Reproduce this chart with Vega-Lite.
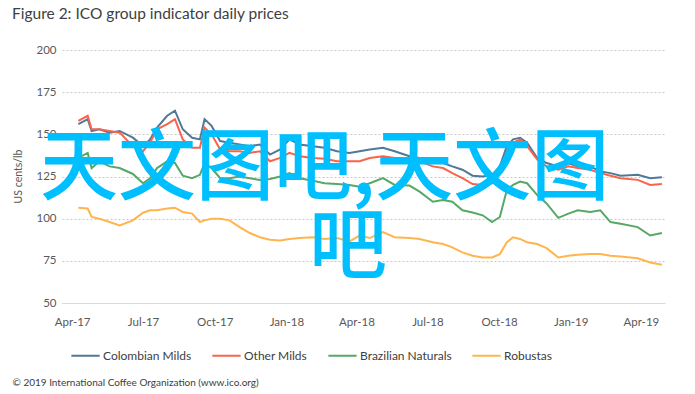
{
  "$schema": "https://vega.github.io/schema/vega-lite/v6.json",
  "autosize": "none",
  "width": 603,
  "height": 253,
  "padding": {"left": 62, "top": 50, "right": 30, "bottom": 91},
  "background": "white",
  "title": {"text": "Figure 2: ICO group indicator daily prices", "anchor": "start", "frame": "group", "dx": -50, "offset": 10, "baseline": "alphabetic", "fontSize": 15.5, "font": "Lato", "fontWeight": "normal", "color": "#404040"},
  "config": {
    "font": "Lato",
    "view": {"stroke": null}
  },
  "datasets": {
    "prices": [
      {"date":"2017-04-09","Colombian Milds":156,"Other Milds":158,"Brazilian Naturals":136,"Robustas":106.5},
      {"date":"2017-04-21","Colombian Milds":159,"Other Milds":161,"Brazilian Naturals":139,"Robustas":106},
      {"date":"2017-04-26","Colombian Milds":152,"Other Milds":153,"Brazilian Naturals":130,"Robustas":101},
      {"date":"2017-05-06","Colombian Milds":153,"Other Milds":153,"Brazilian Naturals":134,"Robustas":100},
      {"date":"2017-05-19","Colombian Milds":151,"Other Milds":152,"Brazilian Naturals":131,"Robustas":98},
      {"date":"2017-06-01","Colombian Milds":152,"Other Milds":151,"Brazilian Naturals":130,"Robustas":96},
      {"date":"2017-06-18","Colombian Milds":148,"Other Milds":143,"Brazilian Naturals":126.5,"Robustas":99},
      {"date":"2017-07-01","Colombian Milds":143,"Other Milds":140,"Brazilian Naturals":121,"Robustas":103.5},
      {"date":"2017-07-10","Colombian Milds":147,"Other Milds":145,"Brazilian Naturals":124,"Robustas":105},
      {"date":"2017-07-19","Colombian Milds":154,"Other Milds":153,"Brazilian Naturals":130,"Robustas":105},
      {"date":"2017-08-01","Colombian Milds":161,"Other Milds":156,"Brazilian Naturals":134,"Robustas":106},
      {"date":"2017-08-11","Colombian Milds":164,"Other Milds":159,"Brazilian Naturals":133,"Robustas":106.5},
      {"date":"2017-08-21","Colombian Milds":153,"Other Milds":147,"Brazilian Naturals":125.5,"Robustas":104},
      {"date":"2017-09-02","Colombian Milds":148,"Other Milds":142,"Brazilian Naturals":124,"Robustas":103},
      {"date":"2017-09-12","Colombian Milds":147,"Other Milds":142,"Brazilian Naturals":126,"Robustas":98},
      {"date":"2017-09-18","Colombian Milds":159,"Other Milds":154,"Brazilian Naturals":133,"Robustas":99},
      {"date":"2017-09-27","Colombian Milds":155,"Other Milds":150,"Brazilian Naturals":130,"Robustas":100},
      {"date":"2017-10-08","Colombian Milds":146,"Other Milds":141,"Brazilian Naturals":124,"Robustas":100},
      {"date":"2017-10-20","Colombian Milds":145,"Other Milds":140,"Brazilian Naturals":124,"Robustas":99},
      {"date":"2017-11-02","Colombian Milds":144,"Other Milds":140,"Brazilian Naturals":125,"Robustas":95},
      {"date":"2017-11-15","Colombian Milds":143,"Other Milds":139,"Brazilian Naturals":124,"Robustas":91.5},
      {"date":"2017-11-28","Colombian Milds":144,"Other Milds":140,"Brazilian Naturals":123,"Robustas":89},
      {"date":"2017-12-11","Colombian Milds":138,"Other Milds":134,"Brazilian Naturals":123.5,"Robustas":87.5},
      {"date":"2017-12-24","Colombian Milds":141,"Other Milds":136,"Brazilian Naturals":125,"Robustas":87},
      {"date":"2018-01-05","Colombian Milds":147,"Other Milds":139,"Brazilian Naturals":127,"Robustas":88},
      {"date":"2018-01-18","Colombian Milds":144,"Other Milds":137,"Brazilian Naturals":124,"Robustas":88.5},
      {"date":"2018-02-04","Colombian Milds":143,"Other Milds":136,"Brazilian Naturals":122.5,"Robustas":89},
      {"date":"2018-02-19","Colombian Milds":142,"Other Milds":135.5,"Brazilian Naturals":121,"Robustas":88},
      {"date":"2018-03-07","Colombian Milds":140,"Other Milds":134,"Brazilian Naturals":120.5,"Robustas":88.5},
      {"date":"2018-03-23","Colombian Milds":139,"Other Milds":134,"Brazilian Naturals":120,"Robustas":86.5},
      {"date":"2018-04-05","Colombian Milds":140,"Other Milds":134,"Brazilian Naturals":119,"Robustas":90},
      {"date":"2018-04-18","Colombian Milds":141,"Other Milds":136,"Brazilian Naturals":121,"Robustas":88.5},
      {"date":"2018-05-05","Colombian Milds":142,"Other Milds":137,"Brazilian Naturals":124,"Robustas":92},
      {"date":"2018-05-20","Colombian Milds":140,"Other Milds":136,"Brazilian Naturals":120,"Robustas":89},
      {"date":"2018-06-08","Colombian Milds":137,"Other Milds":136,"Brazilian Naturals":119.6,"Robustas":88.5},
      {"date":"2018-06-21","Colombian Milds":136,"Other Milds":134,"Brazilian Naturals":116,"Robustas":88},
      {"date":"2018-07-08","Colombian Milds":135,"Other Milds":131,"Brazilian Naturals":110,"Robustas":86},
      {"date":"2018-07-21","Colombian Milds":133,"Other Milds":130,"Brazilian Naturals":111,"Robustas":85},
      {"date":"2018-08-02","Colombian Milds":131,"Other Milds":127,"Brazilian Naturals":110,"Robustas":83},
      {"date":"2018-08-15","Colombian Milds":129,"Other Milds":124,"Brazilian Naturals":105,"Robustas":80},
      {"date":"2018-08-28","Colombian Milds":125.5,"Other Milds":120.5,"Brazilian Naturals":103.7,"Robustas":78},
      {"date":"2018-09-10","Colombian Milds":125,"Other Milds":120,"Brazilian Naturals":102,"Robustas":77},
      {"date":"2018-09-22","Colombian Milds":126,"Other Milds":121,"Brazilian Naturals":98,"Robustas":77},
      {"date":"2018-10-02","Colombian Milds":131,"Other Milds":128,"Brazilian Naturals":101,"Robustas":79},
      {"date":"2018-10-11","Colombian Milds":143,"Other Milds":140,"Brazilian Naturals":117,"Robustas":86},
      {"date":"2018-10-19","Colombian Milds":147,"Other Milds":145,"Brazilian Naturals":120,"Robustas":89},
      {"date":"2018-10-28","Colombian Milds":148,"Other Milds":147,"Brazilian Naturals":122,"Robustas":88},
      {"date":"2018-11-06","Colombian Milds":145,"Other Milds":143,"Brazilian Naturals":121,"Robustas":86},
      {"date":"2018-11-19","Colombian Milds":136,"Other Milds":135,"Brazilian Naturals":114,"Robustas":85},
      {"date":"2018-12-01","Colombian Milds":133,"Other Milds":131,"Brazilian Naturals":109,"Robustas":82.5},
      {"date":"2018-12-16","Colombian Milds":131,"Other Milds":129,"Brazilian Naturals":100.5,"Robustas":77},
      {"date":"2018-12-29","Colombian Milds":133,"Other Milds":131,"Brazilian Naturals":103,"Robustas":78},
      {"date":"2019-01-10","Colombian Milds":131,"Other Milds":130,"Brazilian Naturals":105,"Robustas":78.6},
      {"date":"2019-01-26","Colombian Milds":131,"Other Milds":129,"Brazilian Naturals":104,"Robustas":79},
      {"date":"2019-02-08","Colombian Milds":128,"Other Milds":127,"Brazilian Naturals":105,"Robustas":79},
      {"date":"2019-02-21","Colombian Milds":127,"Other Milds":125.5,"Brazilian Naturals":98,"Robustas":78},
      {"date":"2019-03-06","Colombian Milds":125.5,"Other Milds":124,"Brazilian Naturals":97,"Robustas":77.5},
      {"date":"2019-03-28","Colombian Milds":126,"Other Milds":123,"Brazilian Naturals":95,"Robustas":76.5},
      {"date":"2019-04-13","Colombian Milds":124,"Other Milds":120,"Brazilian Naturals":90,"Robustas":74},
      {"date":"2019-04-28","Colombian Milds":124.5,"Other Milds":120.5,"Brazilian Naturals":91.5,"Robustas":72.7}
    ]
  },
  "layer": [
    {
      "data": {"name": "prices", "format": {"parse": {"date": "date:'%Y-%m-%d'"}}},
      "transform": [{"fold": ["Colombian Milds", "Other Milds", "Brazilian Naturals", "Robustas"], "as": ["series", "price"]}],
      "mark": {"type": "line", "strokeWidth": 2},
      "encoding": {
        "x": {
          "field": "date", "type": "temporal",
          "scale": {"domain": [{"year": 2017, "month": 3, "date": 19}, {"year": 2019, "month": 5, "date": 2}]},
          "axis": {
            "values": [
              {"year": 2017, "month": 4, "date": 1}, {"year": 2017, "month": 7, "date": 1}, {"year": 2017, "month": 10, "date": 1},
              {"year": 2018, "month": 1, "date": 1}, {"year": 2018, "month": 4, "date": 1}, {"year": 2018, "month": 7, "date": 1},
              {"year": 2018, "month": 10, "date": 1}, {"year": 2019, "month": 1, "date": 1}, {"year": 2019, "month": 4, "date": 1}
            ],
            "format": "%b-%y", "grid": false, "ticks": false,
            "domainColor": "#D9D9D9", "domainWidth": 1,
            "labelFontSize": 11.5, "labelColor": "#595959", "labelPadding": 13, "labelFont": "Lato",
            "title": "© 2019 International Coffee Organization (www.ico.org)",
            "titleAnchor": "start", "titleAlign": "left", "titleX": -50, "titleY": 82, "titleBaseline": "alphabetic",
            "titleFontSize": 10, "titleFontWeight": "normal", "titleColor": "#404040", "titleFont": "Lato"
          }
        },
        "y": {
          "field": "price", "type": "quantitative",
          "scale": {"domain": [50, 200], "nice": false, "zero": false},
          "axis": {
            "values": [50, 75, 100, 125, 150, 175, 200],
            "domain": false, "ticks": false, "grid": true,
            "gridDash": [2, 2], "gridColor": "#C8C8C8", "gridWidth": 1,
            "labelFontSize": 11.5, "labelColor": "#595959", "labelPadding": 6, "labelFont": "Lato",
            "title": "US cents/lb", "titleFontSize": 10.5, "titleFontWeight": "normal", "titleColor": "#595959", "titleFont": "Lato",
            "titleX": -44, "titleY": 126, "titleAngle": -90, "titleAlign": "center", "titleBaseline": "middle"
          }
        },
        "color": {
          "field": "series", "type": "nominal",
          "scale": {"domain": ["Colombian Milds", "Other Milds", "Brazilian Naturals", "Robustas"], "range": ["#4E7997", "#F8644B", "#57A867", "#FFB54D"]},
          "legend": {
            "title": null, "orient": "none", "direction": "horizontal", "legendX": 8, "legendY": 290,
            "symbolType": "stroke", "symbolSize": 800, "symbolStrokeWidth": 2, "symbolOffset": 0,
            "labelFontSize": 12, "labelColor": "#404040", "labelFont": "Lato", "labelOffset": 2,
            "columnPadding": 16
          }
        }
      }
    },
    {
      "data": {"values": [{"label": "天文图吧,天文图"}]},
      "mark": {"type": "text", "font": "Noto Sans CJK SC", "fontSize": 78, "fontWeight": 500, "color": "#00BFFF", "align": "center", "baseline": "middle"},
      "encoding": {
        "x": {"datum": {"year": 2018, "month": 2, "date": 19}, "type": "temporal"},
        "y": {"datum": 128.5, "type": "quantitative"},
        "text": {"field": "label"}
      }
    },
    {
      "data": {"values": [{"label": "吧"}]},
      "mark": {"type": "text", "font": "Noto Sans CJK SC", "fontSize": 78, "fontWeight": 500, "color": "#00BFFF", "align": "center", "baseline": "middle"},
      "encoding": {
        "x": {"datum": {"year": 2018, "month": 3, "date": 21}, "type": "temporal"},
        "y": {"datum": 81.5, "type": "quantitative"},
        "text": {"field": "label"}
      }
    }
  ]
}
